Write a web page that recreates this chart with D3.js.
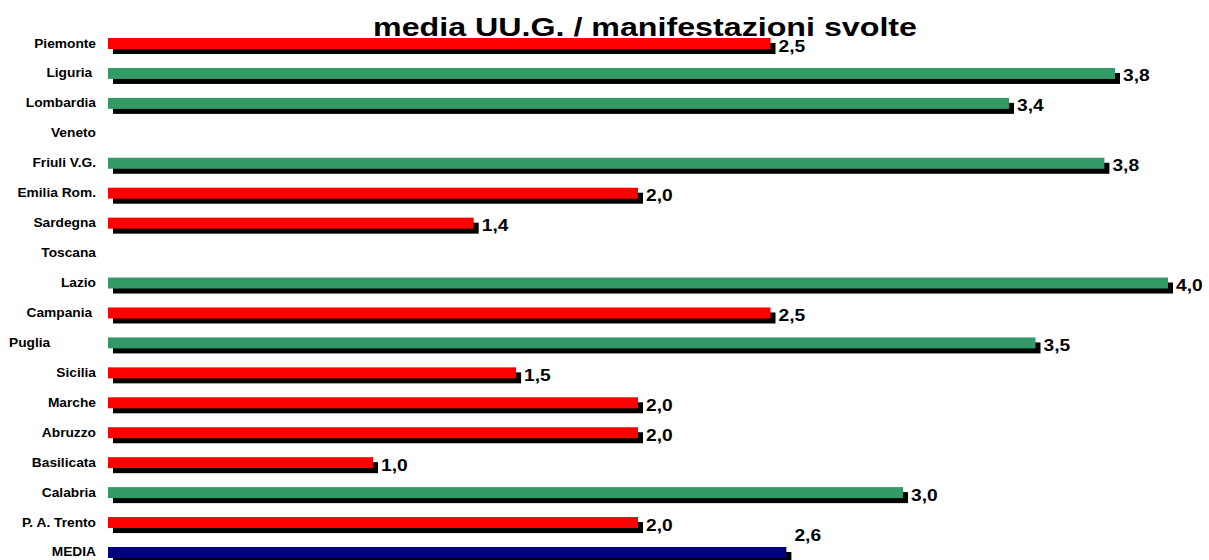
<!DOCTYPE html>
<html>
<head>
<meta charset="utf-8">
<script src="https://cdn.jsdelivr.net/npm/d3@7"></script>
<style>
  body { margin: 0; background: #fff; }
  text { font-family: "Liberation Sans", Arial, sans-serif; font-weight: bold; fill: #000; white-space: pre; }
</style>
</head>
<body>
<script>
const categories = ["Piemonte", "Liguria ", "Lombardia", "Veneto", "Friuli V.G.", "Emilia Rom.", "Sardegna", "Toscana",
  "Lazio", "Campania ", "Puglia            ", "Sicilia", "Marche", "Abruzzo", "Basilicata", "Calabria", "P. A. Trento", "MEDIA"];
const values = [2.5, 3.8, 3.4, null, 3.76, 2.0, 1.38, null, 4.0, 2.5, 3.5, 1.54, 2.0, 2.0, 1.0, 3.0, 2.0, 2.56];
const xDomain = [0, 4];
const chartTitle = "media UU.G. / manifestazioni svolte";

const width = 1209;
const height = 560;
const media = values[values.length - 1];

const svg = d3.select("body").append("svg")
  .attr("width", width)
  .attr("height", height);

const rows = categories.map((c, i) => ({ name: c, value: values[i], isMedia: i === categories.length - 1 }));

const x = d3.scaleLinear().domain(xDomain).range([108, 1168]);
const y = d3.scaleBand().domain(categories).range([38, 558]).paddingInner(1 - 11 / 29.94).paddingOuter(0);

const colorOf = d => d.isMedia ? "#000080" : (d.value >= media ? "#339966" : "#ff0000");
const fmt = v => d3.format(".1f")(v).replace(".", ",");

const withValue = rows.filter(d => d.value != null);

// shadows first
svg.append("g").selectAll("rect")
  .data(withValue)
  .join("rect")
  .attr("x", x(0) + 5)
  .attr("y", d => y(d.name) + 5)
  .attr("width", d => x(d.value) - x(0))
  .attr("height", y.bandwidth())
  .attr("fill", "#000");

svg.append("g").selectAll("rect")
  .data(withValue)
  .join("rect")
  .attr("x", x(0))
  .attr("y", d => y(d.name))
  .attr("width", d => x(d.value) - x(0))
  .attr("height", y.bandwidth())
  .attr("fill", colorOf);

// category labels
svg.append("g").selectAll("text")
  .data(rows)
  .join("text")
  .attr("transform", d => `translate(96,${y(d.name) + 9.5}) scale(1.1,1)`)
  .attr("text-anchor", "end")
  .style("font-size", "12.5px")
  .text(d => d.name);

// value labels
svg.append("g").selectAll("text")
  .data(withValue)
  .join("text")
  .attr("transform", d => {
    const ty = d.isMedia ? y(d.name) - 6 : y(d.name) + 13.5;
    return `translate(${x(d.value) + 8},${ty}) scale(1.13,1)`;
  })
  .style("font-size", "17px")
  .text(d => fmt(d.value));

svg.append("text")
  .attr("x", 373)
  .attr("y", 36)
  .attr("textLength", 544)
  .attr("lengthAdjust", "spacingAndGlyphs")
  .style("font-size", "26.5px")
  .text(chartTitle);
</script>
</body>
</html>
